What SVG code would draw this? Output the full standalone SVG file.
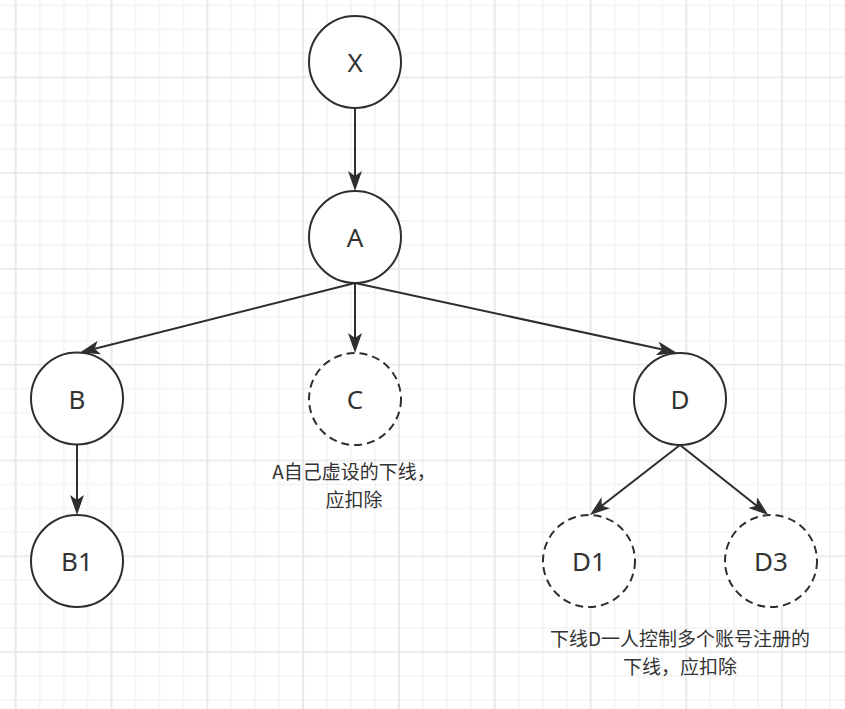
<svg xmlns="http://www.w3.org/2000/svg" width="845" height="709" viewBox="0 0 845 709">
  <style>
    .node { fill: #ffffff; stroke: #2e2e2e; stroke-width: 2; }
    .dashed { stroke-dasharray: 8 5; }
    .label { font-family: "Noto Sans", "Noto Sans CJK SC", sans-serif; font-size: 26px; fill: #333333; text-anchor: middle; }
    .note { font-family: "Noto Sans CJK SC", sans-serif; font-size: 19px; fill: #333333; text-anchor: middle; }
    .edge { fill: none; stroke: #2e2e2e; stroke-width: 2; marker-end: url(#arrow); }
  </style>
  <defs>
    <pattern id="grid" x="14.7" y="76.3" width="95.8" height="95.8" patternUnits="userSpaceOnUse">
      <path d="M1 0V95.8 M24.95 0V95.8 M48.9 0V95.8 M72.85 0V95.8 M0 1H95.8 M0 24.95H95.8 M0 48.9H95.8 M0 72.85H95.8" stroke="#eeeeee" stroke-width="1.2" fill="none"/>
      <path d="M1 0V95.8 M0 1H95.8" stroke="#e1e1e1" stroke-width="1.2" fill="none"/>
    </pattern>
    <marker id="arrow" viewBox="0 0 20 14" refX="15" refY="7" markerWidth="20" markerHeight="14" markerUnits="userSpaceOnUse" orient="auto">
      <path d="M0,0 L20,7 L0,14 L5,7 Z" fill="#2e2e2e"/>
    </marker>
  </defs>
  <rect x="0" y="0" width="845" height="709" fill="#ffffff"/>
  <rect x="0" y="0" width="845" height="709" fill="url(#grid)"/>

  <g id="connectors">
    <path class="edge" d="M355 108 L355 186"/>
    <path class="edge" d="M355 283 L84.85 351.27"/>
    <path class="edge" d="M355 283 L355 348"/>
    <path class="edge" d="M355 283 L671.8 351.6"/>
    <path class="edge" d="M77 445 L77 510"/>
    <path class="edge" d="M680 445 L593.9 511.9"/>
    <path class="edge" d="M680 445 L764.4 511.9"/>
  </g>

  <g id="node-X">
    <circle class="node" cx="355" cy="62" r="46"/>
    <text class="label" x="355" y="72">X</text>
  </g>
  <g id="node-A">
    <circle class="node" cx="355" cy="237" r="46"/>
    <text class="label" x="355" y="247">A</text>
  </g>
  <g id="node-B">
    <circle class="node" cx="77" cy="398.5" r="46"/>
    <text class="label" x="77" y="408.5">B</text>
  </g>
  <g id="node-C">
    <circle class="node dashed" cx="355" cy="399" r="46"/>
    <text class="label" x="355" y="409">C</text>
  </g>
  <g id="node-D">
    <circle class="node" cx="680" cy="399" r="46"/>
    <text class="label" x="680" y="409">D</text>
  </g>
  <g id="node-B1">
    <circle class="node" cx="77" cy="561" r="46"/>
    <text class="label" x="77" y="571">B1</text>
  </g>
  <g id="node-D1">
    <circle class="node dashed" cx="589" cy="561" r="46"/>
    <text class="label" x="589" y="571">D1</text>
  </g>
  <g id="node-D3">
    <circle class="node dashed" cx="771" cy="561" r="46"/>
    <text class="label" x="771" y="571">D3</text>
  </g>

  <g id="note-C">
    <text class="note"><tspan x="354" y="478.5">A自己虚设的下线，</tspan><tspan x="354" y="506.5">应扣除</tspan></text>
  </g>
  <g id="note-D">
    <text class="note"><tspan x="680" y="646">下线D一人控制多个账号注册的</tspan><tspan x="680" y="674">下线，应扣除</tspan></text>
  </g>
</svg>
